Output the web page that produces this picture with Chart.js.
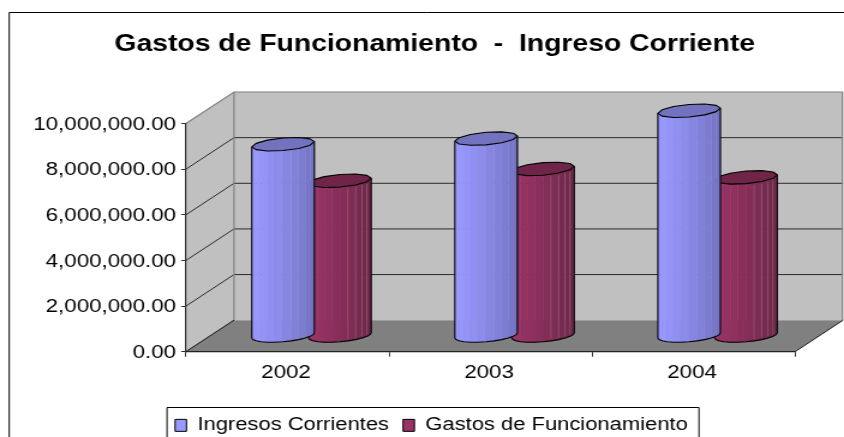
<!DOCTYPE html>
<html><head><meta charset="utf-8">
<style>html,body{margin:0;padding:0;background:#fff;overflow:hidden;width:844px;height:437px}
canvas{display:block;transform-origin:0 0;transform:scaleX(1.2006)}</style>
<script src="https://cdn.jsdelivr.net/npm/chart.js@4/dist/chart.umd.min.js"></script>
</head><body><canvas id="c" width="703" height="437"></canvas>
<script>
const titleText = 'Gastos de Funcionamiento  -  Ingreso Corriente';
const years = ['2002','2003','2004'];
const ingresos = [8400000,8650000,9870000];
const gastos = [6800000,7320000,6950000];
const yTickLabels = ['0.00','2,000,000.00','4,000,000.00','6,000,000.00','8,000,000.00','10,000,000.00'];
const FONT = '"Liberation Sans", Arial, sans-serif';
const DX = 40, DY = 31.5;
const shades = [['#9999FF','#7272C2','#7272BE'],['#993366','#6C2747','#702548']];

function lerpColor(a,b,t){
  const p=s=>[1,3,5].map(i=>parseInt(s.substr(i,2),16));
  const A=p(a),B=p(b);
  return 'rgb('+A.map((v,i)=>Math.round(v+(B[i]-v)*t)).join(',')+')';
}
const walls = {
  id:'walls',
  beforeDraw(chart){
    const c=chart.ctx,{left:l,right:r,top:t,bottom:b}=chart.chartArea,y=chart.scales.y;
    c.save();
    c.strokeStyle='#000';c.lineWidth=1;
    c.beginPath();c.moveTo(703,12.5);c.lineTo(7.7,12.5);c.lineTo(7.7,437);c.stroke();
    c.fillStyle='#C0C0C0';c.strokeStyle='#808080';c.lineWidth=1.2;
    c.beginPath();c.moveTo(l,t);c.lineTo(l+DX,t-DY);c.lineTo(l+DX,b-DY);c.lineTo(l,b);c.closePath();c.fill();
    c.fillRect(l+DX,t-DY,r-l,b-t);
    c.fillStyle='#808080';
    c.beginPath();c.moveTo(l,b);c.lineTo(l+DX,b-DY);c.lineTo(r+DX,b-DY);c.lineTo(r,b);c.closePath();c.fill();
    c.strokeStyle='#2a2a2a';c.lineWidth=1;
    y.ticks.forEach(tk=>{
      if(tk.value===0||tk.value===y.max) return;
      const p=y.getPixelForValue(tk.value);
      c.beginPath();c.moveTo(l,p);c.lineTo(l+DX,p-DY);c.lineTo(r+DX,p-DY);c.stroke();
    });
    c.strokeStyle='#808080';c.lineWidth=1.2;
    c.beginPath();c.moveTo(l,t);c.lineTo(l+DX,t-DY);c.lineTo(r+DX-0.5,t-DY);c.lineTo(r+DX-0.5,b-DY);c.stroke();
    c.beginPath();c.moveTo(l+DX,t-DY);c.lineTo(l+DX,b-DY);c.lineTo(l,b);c.stroke();
    c.strokeStyle='#1a1a1a';c.lineWidth=1;
    c.beginPath();c.moveTo(l,b);c.lineTo(l+DX,b-DY);c.stroke();
    c.beginPath();c.moveTo(r,b);c.lineTo(r+DX,b-DY);c.stroke();
    c.restore();
  },
  afterLayout(chart){
    const lg=chart.legend,tt=chart.titleBlock;
    tt.left+=31;tt.right+=31;
    lg.left+=28.2;lg.right+=28.2;lg.top+=7.5;lg.bottom+=7.5;
  },
  afterDraw(chart){
    const c=chart.ctx;
    c.save();
    c.lineWidth=1;
    c.strokeStyle='#000';
    c.beginPath();c.moveTo(139.1,437);c.lineTo(139.1,407.5);c.lineTo(582.2,407.5);c.lineTo(582.2,437);c.stroke();
    c.restore();
  },
  beforeDatasetDraw(chart,args){
    const c=chart.ctx,meta=args.meta,sh=shades[args.index];
    meta.data.forEach(el=>{
      const R=el.width/2,cx=el.x+DX/2,yT=el.y-DY/2,yB=el.base-DY/2;
      const b=R*0.38,a=Math.sqrt(R*R-b*b),h=6.8,t0=Math.atan2(b,a);
      const pt=(t,y0)=>[cx+a*Math.cos(t)+b*Math.sin(t),y0-h*Math.sin(t)];
      const N=12;
      c.save();
      const front=[];
      for(let i=0;i<=N;i++) front.push(t0+Math.PI+Math.PI*i/N);
      for(let i=0;i<N;i++){
        const p1=pt(front[i],yT),p2=pt(front[i+1],yT),p3=pt(front[i+1],yB),p4=pt(front[i],yB);
        const f=((p1[0]+p2[0])/2-(cx-R))/(2*R);
        c.fillStyle=lerpColor(sh[0],sh[1],Math.pow(f,1.3));
        c.strokeStyle=c.fillStyle;c.lineWidth=0.4;
        c.beginPath();c.moveTo(...p1);c.lineTo(...p2);c.lineTo(...p3);c.lineTo(...p4);c.closePath();c.fill();c.stroke();
      }
      c.strokeStyle='rgba(255,255,255,'+(args.index?0.22:0.1)+')';c.lineWidth=0.7;
      [7,8,9,10].forEach(i=>{
        const p=pt(front[i],yT),q=pt(front[i],yB);
        c.beginPath();c.moveTo(p[0],p[1]+2);c.lineTo(q[0],q[1]-2);c.stroke();
      });
      c.strokeStyle='#000';c.lineWidth=1.1;c.lineJoin='round';
      c.beginPath();
      c.moveTo(...pt(front[0],yT));
      front.forEach(t=>c.lineTo(...pt(t,yB)));
      c.lineTo(...pt(front[N],yT));
      c.stroke();
      c.beginPath();
      for(let i=0;i<12;i++){const p=pt(t0+i*Math.PI/6,yT);i?c.lineTo(...p):c.moveTo(...p);}
      c.closePath();c.fillStyle=sh[2];c.fill();c.stroke();
      c.restore();
    });
    return false;
  }
};
new Chart(document.getElementById('c'),{
  type:'bar',
  data:{labels:years,datasets:[
    {label:'Ingresos Corrientes',data:ingresos,backgroundColor:'#9999FF',borderColor:'#000',borderWidth:1},
    {label:'Gastos de Funcionamiento',data:gastos,backgroundColor:'#993366',borderColor:'#000',borderWidth:1}
  ]},
  options:{
    responsive:false,animation:false,devicePixelRatio:1,
    events:[],
    layout:{padding:{left:0,right:40.8,top:0,bottom:0},autoPadding:false},
    datasets:{bar:{categoryPercentage:0.56,barPercentage:1.1}},
    plugins:{
      tooltip:{enabled:false},
      title:{display:true,text:titleText,color:'#000',
        font:{family:FONT,size:23.6,weight:'bold'},padding:{top:30.1,bottom:65.1}},
      legend:{position:'bottom',
        labels:{font:{family:FONT,size:18.3},color:'#000',boxWidth:9.5,boxHeight:12,padding:11.7}}
    },
    scales:{
      x:{afterFit:s=>{s.height=45.3},
        grid:{drawOnChartArea:false,drawTicks:true,tickLength:5,color:'#333',offset:true},
        border:{color:'#222',width:1.2},
        ticks:{font:{family:FONT,size:18.6},color:'#000',padding:5.5,maxRotation:0,labelOffset:-1.2}},
      y:{min:0,max:10000000,afterFit:s=>{s.width=154.9},
        grid:{drawOnChartArea:false,drawTicks:true,tickLength:4,color:'#333'},
        border:{color:'#333',width:1.2},
        ticks:{stepSize:2000000,font:{family:FONT,size:18.6},color:'#000',padding:4.3,labelOffset:1,
          callback:(v,i)=>yTickLabels[i]}}
    }
  },
  plugins:[walls]
});
</script></body></html>
